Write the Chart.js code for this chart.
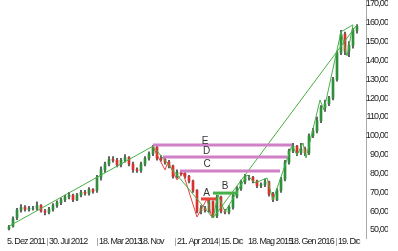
<!DOCTYPE html>
<html>
<head>
<meta charset="utf-8">
<script src="https://cdn.jsdelivr.net/npm/chart.js@4/dist/chart.umd.min.js"></script>
<style>
  html, body { margin: 0; padding: 0; background: #fff; }
  #wrap { width: 398px; height: 251px; }
</style>
</head>
<body>
<div id="wrap"><canvas id="myChart"></canvas></div>
<script>
// candele settimanali (indice = posizione sull'asse)
var opens  = [50.5, 52, 56.5, 60.5, 62, 61, 61.5, 61.5, 63, 60, 59.5, 61, 63, 64.5, 66, 67.5, 68.5, 66, 68.5, 70,
              69.5, 71.5, 71, 78, 82, 85, 87.5, 87, 84.5, 87, 88.5, 85, 82, 81.5, 85, 88, 90.5, 94, 88, 87.5,
              86, 84, 78.5, 80.5, 80, 78.5, 76, 71, 60, 61.5, 60.5, 65, 57.5, 67.5, 60, 59.5, 62, 68, 72, 75.5,
              78, 78, 76, 73.5, 74, 75.5, 69, 66, 71, 77, 86, 92, 94.5, 91, 93, 91, 100, 102.5, 108, 115,
              117, 120, 130, 144, 154, 145, 148, 156];
var closes = [51.5, 56, 60.5, 62, 61, 61.5, 61.5, 63, 60, 59.5, 61, 63, 64.5, 66, 67.5, 68.5, 66, 68.5, 70, 69.5,
              71.5, 70.5, 78, 82, 85, 87.5, 87, 84.5, 87, 88.5, 85, 82, 81.5, 85, 88, 90.5, 94, 88, 87.5, 86,
              84, 78.5, 80.5, 80, 78.5, 76, 71, 60, 61.5, 60.5, 65, 57.5, 67.5, 60, 59.5, 62, 68, 72, 75.5, 78,
              78, 76, 73.5, 74, 75.5, 69, 66, 71, 77, 86, 92, 94.5, 91, 93, 91, 100, 102.5, 108, 115, 117,
              120, 130, 144, 154, 145, 148, 156, 158];
var highs  = [52.5, 57, 61.5, 63.5, 63, 62.5, 62.5, 65, 63.5, 61, 62, 64, 65.5, 67, 68.5, 70, 69, 69.5, 71, 71,
              72.5, 72, 79, 83.5, 86, 89, 89, 88, 88, 90, 89, 86, 83, 86, 89, 91.5, 95, 94.5, 89.5, 88.5,
              87, 84.5, 82, 81.5, 80.5, 79, 76.5, 71.5, 63, 62.5, 66, 65.5, 68.5, 68, 61, 63, 69, 73, 76.5, 79.5,
              79, 78.5, 76.5, 75, 77, 76, 70, 72, 78, 87, 93, 96, 95, 96, 94, 101, 104, 110, 116, 119,
              121, 131, 145, 156, 155, 150, 157, 159];
var lows   = [50, 51.5, 55.5, 59.5, 60, 60, 60.5, 60.5, 59.5, 58, 58.5, 60, 62, 63.5, 65, 66.5, 65, 65.5, 67.5, 68.5,
              68.5, 69.5, 70, 76.5, 80.5, 84, 86, 83.5, 83.5, 86, 84, 80.5, 80.5, 80.5, 84, 87, 89.5, 87, 86.5, 85,
              83, 77.5, 77.5, 79, 77.5, 75, 70, 59, 58.5, 59.5, 59.5, 56.5, 56.5, 59, 58.5, 58.5, 61, 67, 71, 74.5,
              76.5, 75, 72.5, 72.5, 73, 68, 65, 65.5, 70, 76, 85, 91, 89.5, 90, 89.5, 90, 99, 101.5, 107, 113,
              116, 119, 129, 143, 143, 142, 146.5, 154.5];

// linee di tendenza e zigzag
var trendX = [0, 36, 51, 87];
var trendY = [52, 94.5, 56.3, 159];
var zigRedX = [36, 39, 39.75, 42, 43.5, 47, 49.5, 50.75];
var zigRedY = [94.1, 81.9, 86.1, 76.6, 80.3, 56.9, 66.5, 56.4];
var zigGreenX = [51, 52.25, 54, 59.5, 61.5, 64.5, 66, 70.75, 72, 73.5, 74.25, 77.75, 78.75, 83, 84.5, 86, 83];
var zigGreenY = [56.4, 68.6, 59.6, 79.2, 75, 77.6, 65.9, 95.1, 89.8, 96.2, 88.2, 119, 113.7, 155.2, 142.4, 158.9, 155.2];

// livelli orizzontali
var levelNames = ['E', 'D', 'C', 'A', 'B'];
var levelValues = [95.1, 88.8, 81.3, 66.5, 69.6];
var levelStart = [36, 38.5, 42.75, 48, 51];
var levelEnd = [70.75, 69.5, 67.75, 51.75, 57.25];
var levelTextX = [49, 49.4, 49.5, 49.4, 54];
var levelTextY = [97.2, 91.6, 85.0, 69.6, 73.4];

// asse x
var xTickPos = [-1, 9.5, 22, 32, 41.5, 52.5, 59.25, 69.75, 81.75];
var xLabels = ['5. Dez 2011', '30. Jul 2012', '18. Mar 2013', '18. Nov', '21. Apr 2014', '15. Dic', '18. Mag 2015', '18. Gen 2016', '19. Dic'];
var xSeparator = [false, true, true, false, true, true, false, false, true];

// asse y
var yTicks = [50, 60, 70, 80, 90, 100, 110, 120, 130, 140, 150, 160, 170];

var GREEN = '#45b045';
var RED = '#e8443a';
var PINK = '#cf80c6';
var levelColors = { E: PINK, D: PINK, C: PINK, A: RED, B: GREEN };

// niente font stretto installato: Liberation Sans con spaziatura ridotta
var axisFont = { family: '"Liberation Sans", Arial, sans-serif', size: 9 };
var SPACING = '-0.9px';
var probe = document.createElement('canvas').getContext('2d');
probe.font = axisFont.size + 'px ' + axisFont.family;
probe.letterSpacing = SPACING;
var yLabelPad = 17 - probe.measureText('160,00').width;

function pts(xs, ys) {
    return xs.map(function (x, i) { return { x: x, y: ys[i] }; });
}

var datasets = [];

levelNames.forEach(function (name, i) {
    datasets.push({
        type: 'line',
        data: [{ x: levelStart[i], y: levelValues[i] }, { x: levelEnd[i], y: levelValues[i] }],
        borderColor: levelColors[name],
        borderWidth: 3,
        pointRadius: 0,
        order: 1
    });
});

datasets.push({ type: 'line', data: pts(trendX, trendY), borderColor: GREEN, borderWidth: 1, pointRadius: 0, tension: 0, order: 2 });
datasets.push({ type: 'line', data: pts(zigRedX, zigRedY), borderColor: RED, borderWidth: 1, pointRadius: 0, tension: 0, order: 2 });
datasets.push({ type: 'line', data: pts(zigGreenX, zigGreenY), borderColor: GREEN, borderWidth: 1, pointRadius: 0, tension: 0, order: 2 });

// corpi
datasets.push({
    type: 'bar',
    data: closes.map(function (c, i) { return { x: i, y: [opens[i], c] }; }),
    backgroundColor: function (ctx) {
        var i = ctx.dataIndex;
        return closes[i] >= opens[i] ? '#2f8f3a' : '#d93030';
    },
    barThickness: 2,
    grouped: false,
    borderWidth: 0,
    borderSkipped: false,
    order: 3
});
// stoppini
datasets.push({
    type: 'bar',
    data: highs.map(function (h, i) { return { x: i, y: [lows[i], h] }; }),
    backgroundColor: '#444',
    barThickness: 1,
    grouped: false,
    borderWidth: 0,
    borderSkipped: false,
    order: 4
});

var spacingPlugin = {
    id: 'spacing',
    beforeLayout: function (chart) { chart.ctx.letterSpacing = SPACING; },
    beforeDraw: function (chart) { chart.ctx.letterSpacing = SPACING; }
};

var letterPlugin = {
    id: 'letters',
    afterDatasetsDraw: function (chart) {
        var ctx = chart.ctx;
        var xs = chart.scales.x, ys = chart.scales.y;
        ctx.save();
        ctx.letterSpacing = '0px';
        ctx.font = '10px "Liberation Sans", Arial, sans-serif';
        ctx.fillStyle = '#333';
        ctx.textAlign = 'center';
        ctx.textBaseline = 'middle';
        levelNames.forEach(function (name, i) {
            ctx.fillText(name, xs.getPixelForValue(levelTextX[i]), ys.getPixelForValue(levelTextY[i]));
        });
        ctx.restore();
    }
};

var ctx = document.getElementById('myChart').getContext('2d');
var myChart = new Chart(ctx, {
    type: 'bar',
    data: { datasets: datasets },
    options: {
        responsive: true,
        maintainAspectRatio: false,
        animation: false,
        layout: { padding: { left: 5, right: 10, top: 0, bottom: 0 } },
        plugins: { legend: { display: false }, tooltip: { enabled: false } },
        scales: {
            x: {
                type: 'linear',
                min: -1,
                max: 89.25,
                offset: false,
                afterBuildTicks: function (scale) {
                    scale.ticks = xTickPos.map(function (v) { return { value: v }; });
                },
                afterFit: function (scale) {
                    scale.height = 13;
                    scale.paddingLeft = 0;
                    scale.paddingRight = 0;
                },
                grid: {
                    offset: false,
                    drawOnChartArea: false,
                    drawTicks: true,
                    tickLength: 8,
                    color: function (c) { return xSeparator[c.index] ? '#aaa' : 'rgba(0,0,0,0)'; }
                },
                border: { display: false },
                ticks: {
                    autoSkip: false,
                    maxRotation: 0,
                    align: 'start',
                    labelOffset: 2,
                    padding: -10,
                    color: '#222',
                    font: axisFont,
                    callback: function (v, i) { return xLabels[i]; }
                }
            },
            y: {
                type: 'linear',
                position: 'right',
                min: 45.75,
                max: 172.08,
                afterBuildTicks: function (scale) {
                    scale.ticks = yTicks.map(function (v) { return { value: v }; });
                },
                afterFit: function (scale) {
                    scale.width = 22;
                    scale.paddingTop = 0;
                    scale.paddingBottom = 0;
                },
                grid: { drawOnChartArea: false, drawTicks: false },
                border: { display: true, color: '#aaa', width: 1 },
                ticks: {
                    crossAlign: 'far',
                    padding: yLabelPad,
                    color: '#222',
                    font: axisFont,
                    callback: function (v) { return v.toFixed(2).replace('.', ','); }
                }
            }
        }
    },
    plugins: [spacingPlugin, letterPlugin]
});
</script>
</body>
</html>
